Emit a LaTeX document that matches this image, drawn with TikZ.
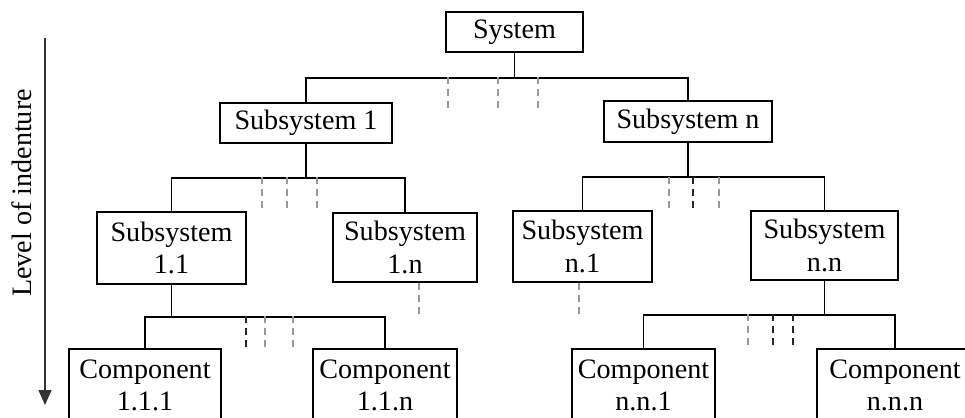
\documentclass[tikz,border=0pt]{standalone}
\usepackage{fontspec}
\setmainfont{Liberation Serif}
\usepackage{tikz}
\usetikzlibrary{arrows.meta}

\begin{document}
\begin{tikzpicture}[
  x=0.3mm, y=-0.3mm,
  every node/.style={font=\fontsize{24}{27.5}\selectfont},
  treebox/.style={draw, line width=1.3pt, inner sep=0pt, align=center},
  treeline/.style={line width=1.3pt},
  treegap/.style={line width=1.2pt, black!40, dash pattern=on 2.1mm off 1.5mm},
  treegapdark/.style={line width=1.2pt, black!85, dash pattern=on 2.1mm off 1.5mm},
  levelline/.style={line width=1pt, black!80, -{Triangle[length=4.5mm, width=3.9mm]}}
]
  \useasboundingbox (0,0) rectangle (965,418);
  \clip (0,0) rectangle (965,418);

  % Macro for one parent with its first and last child
  % Args: parent, drop to the bar, left child, right child
  \newcommand{\fork}[4]{%
    \draw[treeline] (#1.south) -- ++(0,#2) coordinate (#1bar) -| (#3.north);
    \draw[treeline] (#1bar) -| (#4.north);
  }

  % Level of indenture
  \coordinate (lvltop) at (45,38);
  \coordinate (lvlbot) at (45,405);
  \draw[levelline] (lvltop) -- (lvlbot);
  \node[rotate=90] (lvl) at (22,193) {Level of indenture};

  % Level 0
  \node[treebox, minimum width=41.1mm, minimum height=12mm] (sys) at (514.5,32) {System};

  % Level 1
  \node[treebox, minimum width=51.6mm, minimum height=12mm] (sub1) at (306,123) {Subsystem 1};
  \node[treebox, minimum width=50.4mm, minimum height=12.3mm] (subn) at (688,121.5) {Subsystem n};

  % Level 2
  \node[treebox, minimum width=44.7mm, minimum height=21.6mm] (sub11) at (171.5,248) {Subsystem\\1.1};
  \node[treebox, minimum width=43.2mm, minimum height=20.7mm] (sub1n) at (405,247.5) {Subsystem\\1.n};
  \node[treebox, minimum width=41.7mm, minimum height=21.3mm] (subn1) at (582.5,246.5) {Subsystem\\n.1};
  \node[treebox, minimum width=44.1mm, minimum height=20.7mm] (subnn) at (824.5,245.5) {Subsystem\\n.n};

  % Level 3
  \node[treebox, minimum width=45.6mm, minimum height=21.6mm] (comp111) at (145,385) {Component\\1.1.1};
  \node[treebox, minimum width=43.2mm, minimum height=21.6mm] (comp11n) at (385,385) {Component\\1.1.n};
  \node[treebox, minimum width=42.9mm, minimum height=21.6mm] (compnn1) at (643.5,385) {Component\\n.n.1};
  \node[treebox, minimum width=46.8mm, minimum height=21.6mm] (compnnn) at (895,385) {Component\\n.n.n};

  % Tree connectors
  \fork{sys}{25}{sub1}{subn}
  \fork{sub1}{34}{sub11}{sub1n}
  \fork{subn}{34}{subn1}{subnn}
  \fork{sub11}{32}{comp111}{comp11n}
  \fork{subnn}{34}{compnn1}{compnnn}

  % Elided siblings
  \draw[treegap] (448,77) -- ++(0,31);
  \draw[treegap] (498,77) -- ++(0,31);
  \draw[treegap] (538,77) -- ++(0,31);

  \draw[treegap] (262,177) -- ++(0,36);
  \draw[treegap] (287,177) -- ++(0,36);
  \draw[treegap] (317,177) -- ++(0,36);

  \draw[treegap] (669,177) -- ++(0,36);
  \draw[treegapdark] (693,177) -- ++(0,36);
  \draw[treegap] (719,177) -- ++(0,36);

  \draw[treegapdark] (246,316) -- ++(0,32);
  \draw[treegap] (265,316) -- ++(0,32);
  \draw[treegap] (293,316) -- ++(0,32);

  \draw[treegap] (748,314) -- ++(0,34);
  \draw[treegapdark] (773,314) -- ++(0,34);
  \draw[treegapdark] (793,314) -- ++(0,34);

  % Children not drawn
  \draw[treegap] (sub1n.south -| 419,0) -- ++(0,31);
  \draw[treegap] (subn1.south -| 579,0) -- ++(0,31);
\end{tikzpicture}
\end{document}
